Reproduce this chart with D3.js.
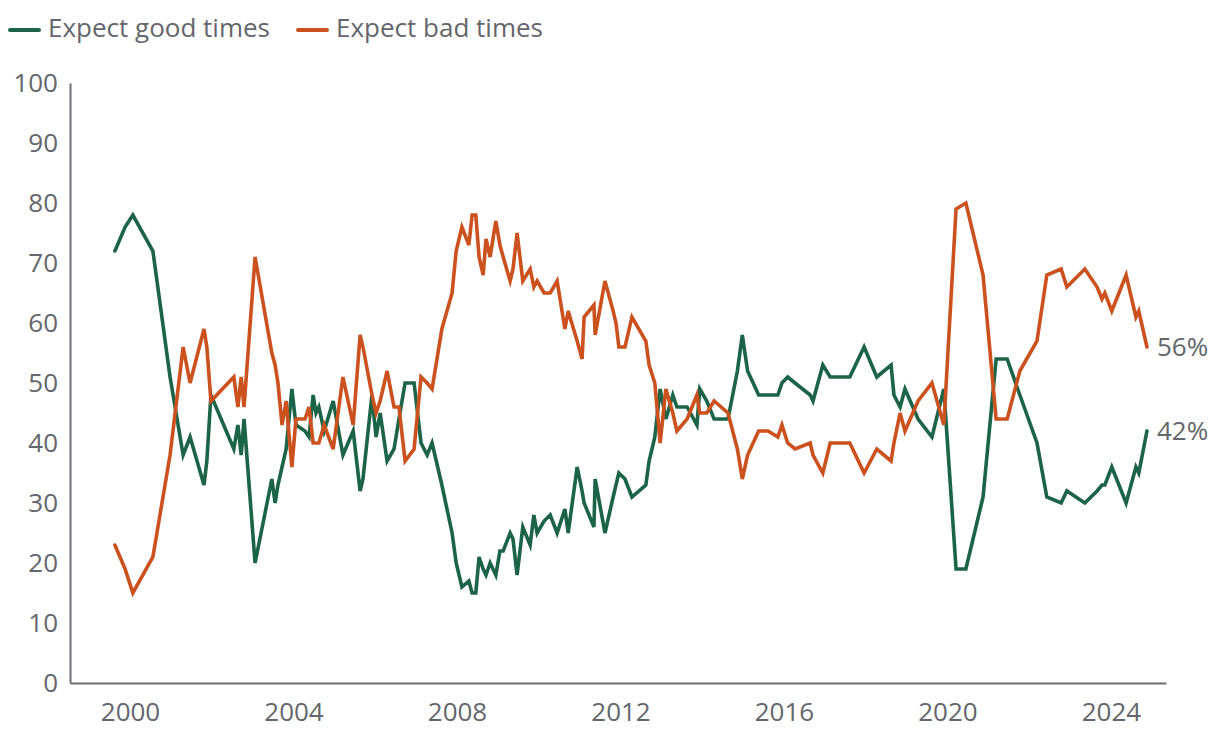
<!DOCTYPE html>
<html>
<head>
<meta charset="utf-8">
<script src="https://cdn.jsdelivr.net/npm/d3@7"></script>
<style>
  html, body { margin: 0; padding: 0; background: #ffffff; }
  svg text { font-family: "Open Sans", "Lato", sans-serif; fill: #63666a; }
</style>
</head>
<body>
<svg id="chart" width="1220" height="736"></svg>
<script>
// ---- data (decimal year of each survey) ----
const dates = [
  1999.63, 1999.88, 2000.07, 2000.56, 2000.98, 2001.30, 2001.47, 2001.81, 2001.88, 2001.98,
  2002.54, 2002.64, 2002.72, 2002.79, 2003.06, 2003.47, 2003.55, 2003.62, 2003.72, 2003.82,
  2003.96, 2004.06, 2004.28, 2004.38, 2004.48, 2004.55, 2004.62, 2004.75, 2004.97, 2005.21,
  2005.46, 2005.63, 2005.70, 2005.92, 2006.02, 2006.12, 2006.29, 2006.46, 2006.58, 2006.73,
  2006.95, 2007.12, 2007.27, 2007.39, 2007.63, 2007.88, 2007.98, 2008.12, 2008.29, 2008.37,
  2008.46, 2008.54, 2008.64, 2008.71, 2008.81, 2008.95, 2009.05, 2009.13, 2009.30, 2009.37,
  2009.47, 2009.61, 2009.79, 2009.88, 2009.96, 2010.13, 2010.28, 2010.45, 2010.64, 2010.72,
  2010.94, 2011.06, 2011.11, 2011.35, 2011.38, 2011.62, 2011.82, 2011.89, 2011.96, 2012.11,
  2012.28, 2012.62, 2012.70, 2012.84, 2012.97, 2013.11, 2013.28, 2013.38, 2013.63, 2013.87,
  2013.94, 2014.11, 2014.29, 2014.63, 2014.86, 2014.98, 2015.11, 2015.38, 2015.61, 2015.85,
  2015.95, 2016.09, 2016.27, 2016.64, 2016.71, 2016.95, 2017.13, 2017.61, 2017.96, 2018.27,
  2018.62, 2018.69, 2018.84, 2018.96, 2019.28, 2019.62, 2019.91, 2020.21, 2020.45, 2020.87,
  2021.19, 2021.46, 2021.77, 2022.19, 2022.43, 2022.78, 2022.92, 2023.36, 2023.66, 2023.78,
  2023.85, 2024.02, 2024.37, 2024.61, 2024.68, 2024.88
];
const goodTimes = [
  72, 76, 78, 72, 51, 38, 41, 33, 37, 48,
  39, 43, 38, 44, 20, 34, 30, 33, 36, 39,
  49, 43, 42, 41, 48, 45, 46, 42, 47, 38,
  42, 32, 34, 48, 41, 45, 37, 39, 44, 50,
  50, 40, 38, 40, 33, 25, 20, 16, 17, 15,
  15, 21, 19, 18, 20, 18, 22, 22, 25, 24,
  18, 26, 23, 28, 25, 27, 28, 25, 29, 25,
  36, 32, 30, 26, 34, 25, 31, 33, 35, 34,
  31, 33, 37, 41, 49, 44, 48, 46, 46, 43,
  49, 47, 44, 44, 52, 58, 52, 48, 48, 48,
  50, 51, 50, 48, 47, 53, 51, 51, 56, 51,
  53, 48, 46, 49, 44, 41, 49, 19, 19, 31,
  54, 54, 48, 40, 31, 30, 32, 30, 32, 33,
  33, 36, 30, 36, 35, 42
];
const badTimes = [
  23, 19, 15, 21, 38, 56, 50, 59, 56, 47,
  51, 46, 51, 46, 71, 55, 53, 50, 43, 47,
  36, 44, 44, 46, 40, 40, 40, 43, 39, 51,
  43, 58, 56, 48, 45, 47, 52, 46, 46, 37,
  39, 51, 50, 49, 59, 65, 72, 76, 73, 78,
  78, 71, 68, 74, 71, 77, 73, 71, 67, 69,
  75, 67, 69, 66, 67, 65, 65, 67, 59, 62,
  57, 54, 61, 63, 58, 67, 62, 60, 56, 56,
  61, 57, 53, 50, 40, 49, 45, 42, 44, 48,
  45, 45, 47, 45, 39, 34, 38, 42, 42, 41,
  43, 40, 39, 40, 38, 35, 40, 40, 35, 39,
  37, 40, 45, 42, 47, 50, 43, 79, 80, 68,
  44, 44, 52, 57, 68, 69, 66, 69, 66, 64,
  65, 62, 68, 61, 62, 56
];
const seriesNames = ["Expect good times", "Expect bad times"];
const seriesColors = ["#1b6448", "#cb521e"];
const yTicks = [0, 10, 20, 30, 40, 50, 60, 70, 80, 90, 100];
const xTicks = [2000, 2004, 2008, 2012, 2016, 2020, 2024];

(function () {
  const svg = d3.select("#chart");
  const mL = 70, mR = 1166, mT = 83, mB = 683;
  const x = d3.scaleLinear().domain([1998.532, 2025.346]).range([mL, mR]);
  const y = d3.scaleLinear().domain([0, 100]).range([mB, mT]);
  const axisColor = "#6d6e71";
  const textColor = "#63666a";
  const fontSize = 26;

  // y axis
  const yAxis = d3.axisLeft(y).tickValues(yTicks).tickSize(0).tickPadding(12);
  const gy = svg.append("g").attr("transform", `translate(${mL},0)`).call(yAxis);
  gy.select(".domain").attr("stroke", axisColor).attr("stroke-width", 2);
  gy.selectAll("text").attr("font-size", fontSize).style("font-family", '"Open Sans", sans-serif').attr("fill", textColor);

  // x axis
  const xAxis = d3.axisBottom(x).tickValues(xTicks).tickFormat(d3.format("d")).tickSize(0).tickPadding(20);
  const gx = svg.append("g").attr("transform", `translate(0,${mB})`).call(xAxis);
  gx.select(".domain").attr("stroke", axisColor).attr("stroke-width", 2);
  gx.selectAll("text").attr("font-size", fontSize).style("font-family", '"Open Sans", sans-serif').attr("fill", textColor);

  // lines
  const seriesValues = [goodTimes, badTimes];
  const line = d3.line().x(d => x(d[0])).y(d => y(d[1]));
  seriesValues.forEach((vals, i) => {
    const pts = dates.map((d, j) => [d, vals[j]]);
    svg.append("path")
      .datum(pts)
      .attr("d", line)
      .attr("fill", "none")
      .attr("stroke", seriesColors[i])
      .attr("stroke-width", 3.6)
      .attr("stroke-linejoin", "miter")
      .attr("stroke-linecap", "round");
    const last = pts[pts.length - 1];
    svg.append("text")
      .attr("x", x(last[0]) + 10)
      .attr("y", y(last[1]))
      .attr("dy", "0.35em")
      .attr("font-size", fontSize)
      .attr("fill", textColor)
      .text(last[1] + "%");
  });

  // legend
  const legendX = [10, 298];
  seriesNames.forEach((name, i) => {
    const g = svg.append("g").attr("transform", `translate(${legendX[i]},28)`);
    g.append("line").attr("x1", 0).attr("x2", 29).attr("y1", 2).attr("y2", 2)
      .attr("stroke", seriesColors[i]).attr("stroke-width", 4).attr("stroke-linecap", "round");
    g.append("text").attr("x", 38).attr("y", 0).attr("dy", "0.35em")
      .attr("font-size", fontSize).attr("fill", textColor).text(name);
  });
})();
</script>
</body>
</html>
